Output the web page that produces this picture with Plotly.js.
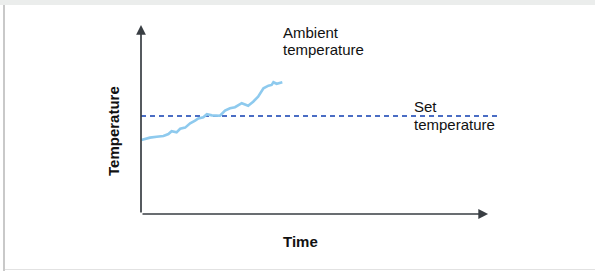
<!DOCTYPE html>
<html>
<head>
<meta charset="utf-8">
<script src="https://cdn.plot.ly/plotly-3.0.1.min.js"></script>
<style>
  html, body { margin: 0; padding: 0; background: #ffffff; }
  #wrap { position: relative; width: 595px; height: 271px; overflow: hidden; }
  #chart { position: absolute; left: 0; top: 0; width: 595px; height: 271px; }
  .frame-top { position: absolute; left: 0; top: 0; width: 595px; height: 5px; background: #ebedec; }
  .frame-left { position: absolute; left: 3px; top: 5px; width: 2px; height: 266px; background: #c9c9c9; }
  .frame-bottom { position: absolute; left: 5px; top: 269px; width: 590px; height: 1px; background: #e2e2e2; }
</style>
</head>
<body>
<div id="wrap">
  <div id="chart"></div>
  <div class="frame-top"></div>
  <div class="frame-left"></div>
  <div class="frame-bottom"></div>
</div>
<script>
// Ambient temperature trace (time units 0..100, temperature units 0..100)
var ambientTime = [0.1, 2.5, 4.4, 6.3, 7.7, 8.6, 10.0, 11.0, 12.4, 13.8, 15.2, 16.1, 17.5, 18.5, 19.9, 22.2, 23.6, 25.0, 26.4, 28.3, 30.1, 31.5, 32.9, 34.4, 35.8, 36.7, 37.2, 38.1, 39.7];
var ambientTemp = [39.2, 40.4, 40.9, 41.3, 42.3, 43.8, 43.2, 45.1, 45.7, 48.0, 49.4, 50.6, 51.2, 52.8, 52.2, 52.0, 54.7, 55.9, 56.5, 58.6, 57.3, 59.4, 62.1, 66.5, 67.9, 68.3, 69.7, 68.9, 69.7];
// Set temperature (constant)
var setTime = [0, 100];
var setTemp = [51.9, 51.9];
// Labels
var xLabel = 'Time';
var yLabel = 'Temperature';
var ambientLabel = ['Ambient', 'temperature'];
var setLabel = ['Set', 'temperature'];

var FONT = 'Liberation Sans, Arial, Helvetica, sans-serif';
var AXIS = '#393e43';

var traces = [
  {
    x: setTime, y: setTemp, mode: 'lines', type: 'scatter',
    line: { color: '#4a6dc4', width: 2, dash: '5px,4px' },
    hoverinfo: 'skip', showlegend: false
  },
  {
    x: ambientTime, y: ambientTemp, mode: 'lines', type: 'scatter',
    line: { color: '#8ecaee', width: 2.6, shape: 'linear' },
    hoverinfo: 'skip', showlegend: false
  }
];

function lbl(text, x, y, size, bold, angle, xanchor) {
  return {
    text: bold ? '<b>' + text + '</b>' : text,
    xref: 'paper', yref: 'paper', x: x, y: y,
    xanchor: xanchor || 'center', yanchor: 'middle',
    showarrow: false, textangle: angle || 0,
    font: { family: FONT, size: size, color: '#111111' }
  };
}

// Plot area: pixel x 141..497, y 25..214
var W = 595, H = 271, L = 141, R = 98, T = 25, B = 57;
function px(xp) { return (xp - L) / (W - L - R); }
function py(yp) { return (H - B - yp) / (H - T - B); }

var annotations = [
  // axis arrows
  { x: 97.5, y: 0, ax: 0, ay: 0, xref: 'x', yref: 'y', axref: 'x', ayref: 'y',
    showarrow: true, arrowhead: 2, arrowsize: 1.15, arrowwidth: 1.7, arrowcolor: AXIS, text: '' },
  { x: 0, y: 100, ax: 0, ay: 0, xref: 'x', yref: 'y', axref: 'x', ayref: 'y',
    showarrow: true, arrowhead: 2, arrowsize: 1.15, arrowwidth: 1.7, arrowcolor: AXIS, text: '' },
  lbl(xLabel, px(300), py(241), 15, true, 0),
  lbl(yLabel, px(113), py(131), 15, true, -90),
  lbl(ambientLabel[0], px(281), py(32.5), 15, false, 0, 'left'),
  lbl(ambientLabel[1], px(281), py(49.5), 15, false, 0, 'left'),
  lbl(setLabel[0], px(412), py(106.5), 15, false, 0, 'left'),
  lbl(setLabel[1], px(412), py(124), 15, false, 0, 'left')
];

var layout = {
  width: W, height: H,
  margin: { l: L, r: R, t: T, b: B, pad: 0 },
  paper_bgcolor: '#ffffff', plot_bgcolor: '#ffffff',
  showlegend: false,
  xaxis: { range: [0, 100], visible: false, fixedrange: true },
  yaxis: { range: [0, 100], visible: false, fixedrange: true },
  annotations: annotations,
  font: { family: FONT }
};

Plotly.newPlot('chart', traces, layout, { staticPlot: true, displayModeBar: false });
</script>
</body>
</html>
